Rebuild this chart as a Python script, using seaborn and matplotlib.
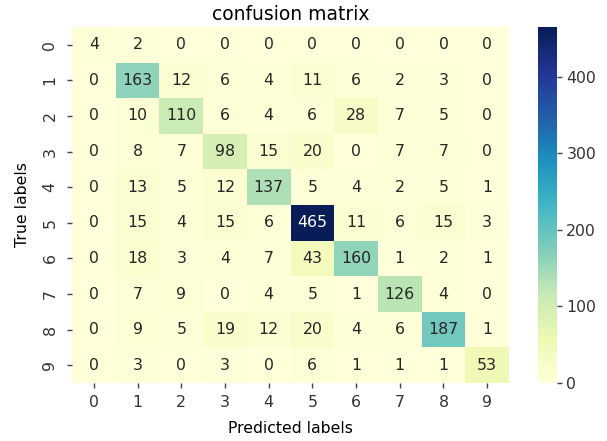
import numpy as np
import matplotlib
matplotlib.use("Agg")
import matplotlib.pyplot as plt
import seaborn as sns

labels = ["0", "1", "2", "3", "4", "5", "6", "7", "8", "9"]

row_0 = [4, 2, 0, 0, 0, 0, 0, 0, 0, 0]
row_1 = [0, 163, 12, 6, 4, 11, 6, 2, 3, 0]
row_2 = [0, 10, 110, 6, 4, 6, 28, 7, 5, 0]
row_3 = [0, 8, 7, 98, 15, 20, 0, 7, 7, 0]
row_4 = [0, 13, 5, 12, 137, 5, 4, 2, 5, 1]
row_5 = [0, 15, 4, 15, 6, 465, 11, 6, 15, 3]
row_6 = [0, 18, 3, 4, 7, 43, 160, 1, 2, 1]
row_7 = [0, 7, 9, 0, 4, 5, 1, 126, 4, 0]
row_8 = [0, 9, 5, 19, 12, 20, 4, 6, 187, 1]
row_9 = [0, 3, 0, 3, 0, 6, 1, 1, 1, 53]

cm = np.array([row_0, row_1, row_2, row_3, row_4,
               row_5, row_6, row_7, row_8, row_9])

fig = plt.figure(figsize=(6.07, 4.41), dpi=100)
ax = fig.add_axes([0.1186, 0.1315, 0.7200, 0.8073])
cax = fig.add_axes([0.886, 0.1315, 0.031, 0.8073])

fs = 11.3
sns.heatmap(cm, annot=True, fmt="d", cmap="YlGnBu", ax=ax, cbar_ax=cax,
            xticklabels=labels, yticklabels=labels,
            annot_kws={"fontsize": fs})

ax.set_title("confusion matrix", fontsize=13.5, pad=5)
ax.set_xlabel("Predicted labels", fontsize=fs, labelpad=8)
ax.set_ylabel("True labels", fontsize=fs, labelpad=9)
ax.tick_params(axis="both", left=True, bottom=True, labelsize=fs,
               length=3.5, width=1, color="#444444", labelcolor="#333333")
ax.tick_params(axis="y", pad=7)
ax.tick_params(axis="x", pad=5.3)
plt.setp(ax.get_yticklabels(), rotation=90, va="center")
plt.setp(ax.get_xticklabels(), rotation=0)
cax.set_yticks([0, 100, 200, 300, 400])
cax.tick_params(axis="y", right=True, labelsize=fs, length=3.5, width=1,
                color="#444444", labelcolor="#333333")

fig.savefig("out.png", dpi=100)
